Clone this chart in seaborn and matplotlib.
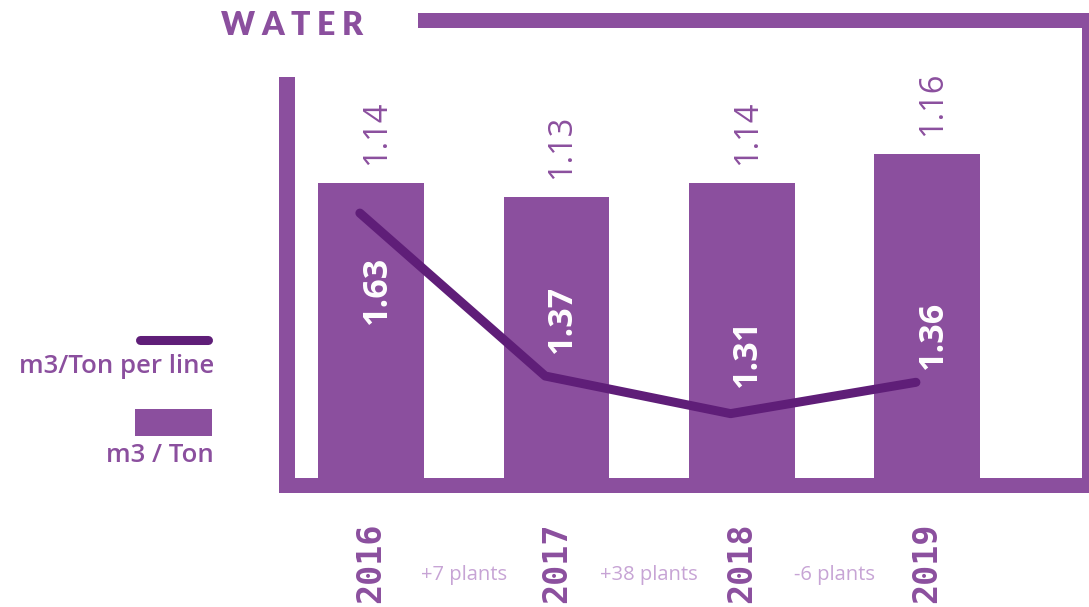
import numpy as np
import pandas as pd
import matplotlib
matplotlib.use("Agg")
import matplotlib.pyplot as plt
import seaborn as sns
from matplotlib.patches import Rectangle
from matplotlib.lines import Line2D

# --- data -------------------------------------------------------------
years = ["2016", "2017", "2018", "2019"]
m3_per_ton = [1.14, 1.13, 1.14, 1.16]
m3_per_ton_line = [1.63, 1.37, 1.31, 1.36]
plant_changes = ["+7 plants", "+38 plants", "-6 plants"]

title = "WATER"
legend_line_label = "m3/Ton per line"
legend_bar_label = "m3 / Ton"

# --- styling ----------------------------------------------------------
PURPLE = "#8B4F9E"
DARK = "#5F1E78"
LILAC = "#C7A4D5"
W, H = 1089, 607

sns.set_theme(style="white")
plt.rcParams["font.family"] = ["Open Sans", "DejaVu Sans"]

fig = plt.figure(figsize=(W / 100, H / 100), dpi=100)


def fx(px):
    return px / W


def fy(py):
    return 1 - py / H


# plot area sits inside the decorative frame
ax_l, ax_r, ax_t, ax_b = 295, 1082, 28, 478
ax = fig.add_axes([fx(ax_l), fy(ax_b), (ax_r - ax_l) / W, (ax_b - ax_t) / H])

df = pd.DataFrame({"year": years, "m3_ton": m3_per_ton,
                   "m3_ton_line": m3_per_ton_line})

sns.barplot(data=df, x="year", y="m3_ton", color=PURPLE, saturation=1,
            width=0.57, linewidth=0, edgecolor="none", ax=ax)

ax2 = ax.twinx()
line_x = np.arange(len(years)) - 0.06
sns.lineplot(x=line_x, y=df["m3_ton_line"].to_numpy(), ax=ax2, color=DARK,
             linewidth=6.5, solid_capstyle="round")

ax.set_xlim(-0.41, 3.836)
ax.set_ylim(0.9376, 1.2462)
ax2.set_ylim(1.2073, 1.9253)

for a in (ax, ax2):
    for s in a.spines.values():
        s.set_visible(False)
    a.set_yticks([])
    a.set_ylabel("")
    a.set_xlabel("")
    a.patch.set_alpha(0)

ax.set_xticks(range(len(years)))
ax.set_xticklabels(years, rotation=90, fontfamily="DejaVu Sans Mono",
                   fontweight="bold", fontsize=24, color=PURPLE)
ax.tick_params(axis="x", length=0, pad=32)

# bar values above each bar
for i, v in enumerate(m3_per_ton):
    ax.annotate(f"{v:.2f}", xy=(i, v), xytext=(4, 13),
                textcoords="offset points", rotation=90, ha="center",
                va="bottom", fontsize=23.5, fontweight="normal", color=PURPLE)

# line values written inside the bars
label_dy = [-55, 41, 44, 34]
for i, v in enumerate(m3_per_ton_line):
    ax2.annotate(f"{v:.2f}", xy=(i, v), xytext=(4, label_dy[i]),
                 textcoords="offset points", rotation=90, ha="center",
                 va="center", fontsize=24.5, fontweight="bold", color="white",
                 zorder=5)

# plant count changes between years
for i, t in enumerate(plant_changes):
    ax.annotate(t, xy=(i + 0.5, 0), xycoords=("data", "axes fraction"),
                xytext=(0, -70), textcoords="offset points", ha="center",
                va="center", fontsize=14.5, color=LILAC)

# --- frame ------------------------------------------------------------
def frame_bar(x0, y0, x1, y1):
    fig.add_artist(Rectangle((fx(x0), fy(y1)), (x1 - x0) / W, (y1 - y0) / H,
                             transform=fig.transFigure, color=PURPLE, lw=0))


frame_bar(279, 77, 295, 493)     # left
frame_bar(279, 478, 1090, 493)   # bottom
frame_bar(1082, 13, 1090, 493)   # right
frame_bar(418, 13, 1090, 28)     # top

# --- legend -----------------------------------------------------------
fig.add_artist(Line2D([fx(139.5), fx(207.5)], [fy(340), fy(340)],
                      transform=fig.transFigure, color=DARK, lw=6.5,
                      solid_capstyle="round"))
fig.add_artist(Rectangle((fx(135), fy(436)), 77 / W, 27 / H,
                         transform=fig.transFigure, color=PURPLE, lw=0))
fig.text(fx(214), fy(373), legend_line_label, ha="right", va="baseline",
         fontsize=18.5, fontweight="semibold", color=PURPLE)
fig.text(fx(214), fy(462), legend_bar_label, ha="right", va="baseline",
         fontsize=18.5, fontweight="semibold", color=PURPLE)

# --- spaced-out title -------------------------------------------------
renderer = fig.canvas.get_renderer()
title_kw = dict(fontsize=23, fontweight="heavy", color=PURPLE,
                family=["Lato", "DejaVu Sans"], va="baseline", ha="left")
letters = [fig.text(0, fy(35), ch, **title_kw) for ch in title]
widths = [t.get_window_extent(renderer).width for t in letters]
gap = (363 - 221 - sum(widths)) / (len(letters) - 1)
x = 221
for t, w in zip(letters, widths):
    t.set_x(fx(x))
    x += w + gap

fig.savefig("out.png", dpi=100)
